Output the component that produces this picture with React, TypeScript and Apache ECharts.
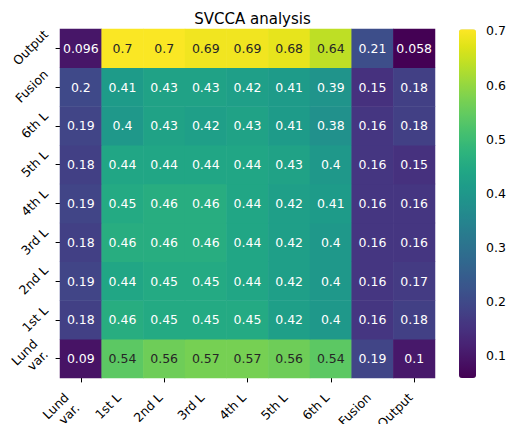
import React, { useEffect, useRef } from "react";
import * as echarts from "echarts";

// Axis categories (bottom-to-top for rows, left-to-right for columns)
const xLabels = ["Lund\nvar.", "1st L", "2nd L", "3rd L", "4th L", "5th L", "6th L", "Fusion", "Output"];
const yLabels = ["Lund\nvar.", "1st L", "2nd L", "3rd L", "4th L", "5th L", "6th L", "Fusion", "Output"];

// Row values (one array per row label)
const rowLund = [0.09, 0.54, 0.56, 0.57, 0.57, 0.56, 0.54, 0.19, 0.1];
const row1st = [0.18, 0.46, 0.45, 0.45, 0.45, 0.42, 0.4, 0.16, 0.18];
const row2nd = [0.19, 0.44, 0.45, 0.45, 0.44, 0.42, 0.4, 0.16, 0.17];
const row3rd = [0.18, 0.46, 0.46, 0.46, 0.44, 0.42, 0.4, 0.16, 0.16];
const row4th = [0.19, 0.45, 0.46, 0.46, 0.44, 0.42, 0.41, 0.16, 0.16];
const row5th = [0.18, 0.44, 0.44, 0.44, 0.44, 0.43, 0.4, 0.16, 0.15];
const row6th = [0.19, 0.4, 0.43, 0.42, 0.43, 0.41, 0.38, 0.16, 0.18];
const rowFusion = [0.2, 0.41, 0.43, 0.43, 0.42, 0.41, 0.39, 0.15, 0.18];
const rowOutput = [0.096, 0.7, 0.7, 0.69, 0.69, 0.68, 0.64, 0.21, 0.058];

const rows = [rowLund, row1st, row2nd, row3rd, row4th, row5th, row6th, rowFusion, rowOutput];

// Colour scale range and colorbar ticks
const vMin = 0.0585;
const vMax = 0.7031;
const colorbarTicks = [0.1, 0.2, 0.3, 0.4, 0.5, 0.6, 0.7];

const viridis = [
  "#440154", "#471365", "#482475", "#463480", "#414487", "#3b528b", "#355f8d",
  "#2f6c8e", "#2a788e", "#25848e", "#21918c", "#1e9c89", "#22a884", "#2fb47c",
  "#44bf70", "#5ec962", "#7ad151", "#9bd93c", "#bddf26", "#dfe318", "#fde725",
];

const FONT = "DejaVu Sans";
const FS = 12.5;
const LH = 15;

const GRID_LEFT = 60;
const GRID_TOP = 29;
const GRID_W = 375;
const GRID_H = 349;

export default function App() {
  const ref = useRef<HTMLDivElement>(null);
  useEffect(() => {
    if (!ref.current) return;
    const chart = echarts.init(ref.current, undefined, { renderer: "svg" });
    const data: any[] = [];
    rows.forEach((row, yi) => {
      row.forEach((v, xi) => {
        data.push({
          value: [xi, yi, v],
          label: { color: v > 0.5 ? "#262626" : "#ffffff" },
        });
      });
    });
    chart.setOption({
      animation: false,
      backgroundColor: "#ffffff",
      textStyle: { fontFamily: FONT },
      title: {
        text: "SVCCA analysis",
        left: GRID_LEFT + GRID_W / 2,
        top: 6,
        textAlign: "center",
        textStyle: { fontFamily: FONT, fontSize: 15, fontWeight: "normal", color: "#000" },
      },
      grid: [
        { left: GRID_LEFT, top: GRID_TOP, width: GRID_W, height: GRID_H },
        { left: 459, top: 29.3, width: 17, height: 348.7 },
      ],
      xAxis: [
        {
          type: "category",
          gridIndex: 0,
          data: xLabels,
          axisLine: { show: false },
          axisTick: { show: true, alignWithLabel: true, length: 4.4, lineStyle: { color: "#000" } },
          axisLabel: { show: false },
          splitLine: { show: false },
        },
        { type: "value", gridIndex: 1, show: false, min: 0, max: 1 },
      ],
      yAxis: [
        {
          type: "category",
          gridIndex: 0,
          data: yLabels,
          axisLine: { show: false },
          axisTick: { show: true, alignWithLabel: true, length: 4.4, lineStyle: { color: "#000" } },
          axisLabel: { show: false },
          splitLine: { show: false },
        },
        {
          type: "value",
          gridIndex: 1,
          position: "right",
          min: vMin,
          max: vMax,
          axisLine: { show: false },
          axisTick: {
            show: true,
            length: 4.4,
            lineStyle: { color: "#000" },
            customValues: colorbarTicks,
          },
          axisLabel: {
            margin: 10,
            fontFamily: FONT,
            fontSize: FS,
            color: "#000",
            customValues: colorbarTicks,
            formatter: (v: number) => String(Math.round(v * 10) / 10),
          },
          splitLine: { show: false },
        },
      ],
      visualMap: {
        type: "continuous",
        min: vMin,
        max: vMax,
        dimension: 2,
        seriesIndex: 0,
        show: true,
        calculable: false,
        orient: "vertical",
        left: 459,
        top: 29.3,
        padding: 0,
        itemWidth: 17,
        itemHeight: 348.7,
        text: ["", ""],
        showLabel: false,
        inRange: { color: viridis },
      },
      series: [
        {
          type: "heatmap",
          xAxisIndex: 0,
          yAxisIndex: 0,
          data,
          label: {
            show: true,
            fontFamily: FONT,
            fontSize: FS,
            formatter: (p: any) => String(p.value[2]),
          },
          itemStyle: { borderWidth: 0 },
          emphasis: { disabled: true },
        },
      ],
    });

    // Rotated tick labels placed like matplotlib (bbox-aligned), positions from the axes
    const canvas = document.createElement("canvas");
    const ctx = canvas.getContext("2d")!;
    ctx.font = `${FS}px "${FONT}"`;
    const k = Math.SQRT1_2;
    const makeLabel = (text: string, cx: number, cy: number) => {
      const lines = text.split("\n");
      const L = Math.max(...lines.map((s) => ctx.measureText(s).width));
      // anchor = right-middle of text block; block centre lies at anchor + (-kL/2, kL/2)
      return {
        type: "text",
        x: cx + (k * L) / 2,
        y: cy - (k * L) / 2,
        rotation: Math.PI / 4,
        silent: true,
        style: {
          text,
          fill: "#000",
          font: `${FS}px "${FONT}"`,
          align: "right",
          verticalAlign: "middle",
          lineHeight: LH,
        },
      };
    };
    const bboxSize = (text: string) => {
      const lines = text.split("\n");
      const L = Math.max(...lines.map((s) => ctx.measureText(s).width));
      return k * (L + lines.length * LH);
    };
    const elements: any[] = [];
    const yRight = GRID_LEFT - 4.4 - 4.6;
    yLabels.forEach((lab, j) => {
      const py = chart.convertToPixel({ gridIndex: 0 }, [0, j])[1];
      const W = bboxSize(lab);
      elements.push(makeLabel(lab, yRight - W / 2, py - 1));
    });
    const xTop = GRID_TOP + GRID_H + 4.4 + 7.5;
    xLabels.forEach((lab, i) => {
      const px = chart.convertToPixel({ gridIndex: 0 }, [i, 0])[0];
      const W = bboxSize(lab);
      elements.push(makeLabel(lab, px + 1.5 - W / 2, xTop + W / 2));
    });
    chart.setOption({ graphic: elements });

    return () => chart.dispose();
  }, []);
  return (
    <div
      ref={ref}
      style={{ position: "absolute", left: 0, top: 0, width: 511, height: 424 }}
    />
  );
}
